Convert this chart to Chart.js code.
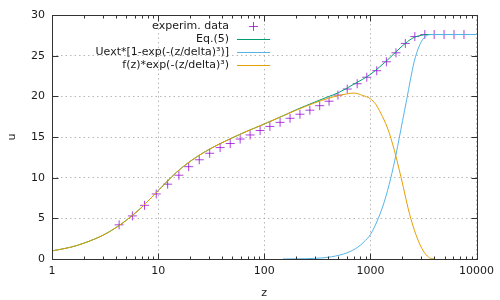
<!DOCTYPE html>
<html>
<head>
<meta charset="utf-8">
<script src="https://cdn.jsdelivr.net/npm/chart.js@4.4.1/dist/chart.umd.min.js"></script>
<style>
  html, body { margin: 0; padding: 0; background: #fff; }
  #wrap { width: 500px; height: 300px; }
</style>
</head>
<body>
<div id="wrap"><canvas id="uChart" width="500" height="300"></canvas></div>
<script>
// tick labels
const zTicks = [1, 10, 100, 1000, 10000];
const uTicks = [0, 5, 10, 15, 20, 25, 30];

const seriesNames = [
  "experim. data",
  "Eq.(5)",
  "Uext*[1-exp(-(z/delta)\u00B3)]",
  "f(z)*exp(-(z/delta)\u00B3)"
];
const seriesColors = ["rgba(148,0,211,0.75)", "#009e73", "#56b4e9", "#e69f00"];

// experimental points
const dataZ = [4.29, 5.72, 7.44, 9.6, 12.3, 15.7, 19.4, 24.4, 30.6, 38.4,
  47.8, 59.3, 73.6, 91.4, 113, 141, 175, 217, 269, 333,
  408, 495, 605, 751, 925, 1148, 1415, 1742, 2134, 2624,
  3258, 3990, 4946, 6137, 7621];
const dataU = [4.2, 5.3, 6.6, 8.0, 9.2, 10.3, 11.35, 12.2, 13.0, 13.7,
  14.2, 14.75, 15.25, 15.8, 16.3, 16.8, 17.3, 17.8, 18.3, 18.85,
  19.4, 20.15, 20.9, 21.55, 22.35, 23.15, 24.25, 25.35, 26.5, 27.35,
  27.6, 27.6, 27.6, 27.6, 27.6];

// Eq.(5)
const eq5Z = [1, 1.5, 2, 3, 4, 5, 7, 10, 15, 20, 30, 50, 70, 100, 150, 200, 300,
  400, 500, 700, 1000, 1500, 2000, 2500, 3000, 3500, 10000];
const eq5U = [1.0, 1.45, 1.95, 2.9, 3.85, 4.75, 6.35, 8.4, 10.7, 12.0, 13.45, 14.9, 15.75, 16.6, 17.6, 18.35, 19.3,
  19.95, 20.45, 21.5, 22.7, 24.65, 26.2, 27.15, 27.5, 27.6, 27.6];

// Uext*[1-exp(...)]
const outerZ = [150, 200, 300, 430, 614, 760, 870, 1000, 1170, 1350, 1560, 1740, 2010, 2200,
  2380, 2590, 2890, 3200, 3700, 10000];
const outerU = [0, 0.02, 0.08, 0.27, 0.8, 1.45, 2.1, 3.0, 4.8, 7.0, 10.0, 12.8, 17.0, 19.6,
  22.0, 24.3, 26.2, 27.2, 27.6, 27.6];

// f(z)*exp(...)
const innerZ = [1, 1.5, 2, 3, 4, 5, 7, 10, 15, 20, 30, 50, 70, 100, 150, 200, 300,
  400, 500, 600, 700, 850, 1000, 1120, 1250, 1450, 1680, 1940, 2400, 3000, 3600, 4000];
const innerU = [1.0, 1.45, 1.95, 2.9, 3.85, 4.75, 6.35, 8.4, 10.7, 12.0, 13.45, 14.9, 15.75, 16.6, 17.6, 18.3, 19.2,
  19.75, 20.1, 20.3, 20.4, 20.1, 19.7, 19.05, 17.95, 16.1, 13.4, 10.1, 5.0, 1.5, 0.15, 0];

const toPts = (xs, ys) => xs.map((x, i) => ({ x: x, y: ys[i] }));

const FONT = "DejaVu Sans";
const TEXT = "#1a1a1a";
const FRAME = "#333333";
const GRID = "rgba(160,160,160,0.75)";

const framePlugin = {
  id: "frame",
  afterDraw(chart) {
    const ctx = chart.ctx;
    const a = chart.chartArea;
    const xs = chart.scales.x, ys = chart.scales.y;
    ctx.save();
    ctx.strokeStyle = FRAME;
    ctx.lineWidth = 1;
    const L = Math.round(a.left) + 0.5, R = Math.round(a.right) + 0.5;
    const T = Math.round(a.top) + 0.5, B = Math.round(a.bottom) + 0.5;
    ctx.strokeRect(L, T, R - L, B - T);

    ctx.beginPath();
    // x major + minor ticks, bottom and top
    for (let d = 1; d < 10000; d *= 10) {
      for (let m = 1; m < 10; m++) {
        const px = Math.round(xs.getPixelForValue(d * m)) + 0.5;
        const len = m === 1 ? 6 : 3;
        ctx.moveTo(px, B); ctx.lineTo(px, B - len);
        ctx.moveTo(px, T); ctx.lineTo(px, T + len);
      }
    }
    // y ticks, left and right
    uTicks.forEach(v => {
      const py = Math.round(ys.getPixelForValue(v)) + 0.5;
      ctx.moveTo(L, py); ctx.lineTo(L + 6, py);
      ctx.moveTo(R, py); ctx.lineTo(R - 6, py);
    });
    ctx.stroke();

    // axis titles
    ctx.fillStyle = TEXT;
    ctx.font = "11px '" + FONT + "'";
    ctx.textAlign = "center";
    ctx.textBaseline = "middle";
    ctx.fillText("z", (a.left + a.right) / 2, 293);
    ctx.save();
    ctx.translate(12, (a.top + a.bottom) / 2);
    ctx.rotate(-Math.PI / 2);
    ctx.fillText("u", 0, 0);
    ctx.restore();

    // legend
    const rowY = [26, 39, 52, 65];
    ctx.textAlign = "right";
    seriesNames.forEach((name, i) => {
      const yy = rowY[i];
      ctx.fillStyle = TEXT;
      ctx.fillText(name, 229, yy);
      ctx.strokeStyle = seriesColors[i];
      ctx.beginPath();
      if (i === 0) {
        ctx.moveTo(253.5 - 4.5, yy + 0.5); ctx.lineTo(253.5 + 4.5, yy + 0.5);
        ctx.moveTo(253.5, yy - 4); ctx.lineTo(253.5, yy + 5);
      } else {
        ctx.moveTo(237, yy + 0.5); ctx.lineTo(270, yy + 0.5);
      }
      ctx.stroke();
    });
    ctx.restore();
  }
};

let chart;

function initChart() {
  chart = new Chart(document.getElementById("uChart"), {
    type: "line",
    data: {
      datasets: [
        {
          label: seriesNames[0],
          data: toPts(dataZ, dataU),
          showLine: false,
          pointStyle: "cross",
          pointRadius: 4.5,
          pointBorderWidth: 1,
          borderColor: seriesColors[0],
          backgroundColor: seriesColors[0],
          order: 4
        },
        {
          label: seriesNames[1],
          data: toPts(eq5Z, eq5U),
          borderColor: seriesColors[1],
          borderWidth: 1,
          pointRadius: 0,
          cubicInterpolationMode: "monotone",
          order: 3
        },
        {
          label: seriesNames[2],
          data: toPts(outerZ, outerU),
          borderColor: seriesColors[2],
          borderWidth: 1,
          pointRadius: 0,
          cubicInterpolationMode: "monotone",
          order: 2
        },
        {
          label: seriesNames[3],
          data: toPts(innerZ, innerU),
          borderColor: seriesColors[3],
          borderWidth: 1,
          pointRadius: 0,
          cubicInterpolationMode: "monotone",
          order: 1
        }
      ]
    },
    options: {
      responsive: false,
      animation: false,
      events: [],
      layout: { padding: { top: 15, right: 21, left: 0, bottom: 0 } },
      plugins: { legend: { display: false }, tooltip: { enabled: false } },
      scales: {
        x: {
          type: "logarithmic",
          min: 1,
          max: 10000,
          afterBuildTicks: s => { s.ticks = zTicks.map(v => ({ value: v })); },
          afterFit: s => { s.height = 41; },
          ticks: {
            autoSkip: false,
            maxRotation: 0,
            padding: 6,
            color: TEXT,
            font: { family: FONT, size: 11 },
            callback: v => String(v)
          },
          grid: { drawTicks: false, color: GRID, lineWidth: 1 },
          border: { display: false, dash: [1.5, 3] }
        },
        y: {
          min: 0,
          max: 30,
          afterBuildTicks: s => { s.ticks = uTicks.map(v => ({ value: v })); },
          afterFit: s => { s.width = 52; },
          ticks: {
            padding: 7,
            color: TEXT,
            font: { family: FONT, size: 11 }
          },
          grid: { drawTicks: false, color: GRID, lineWidth: 1 },
          border: { display: false, dash: [1.5, 3] }
        }
      }
    },
    plugins: [framePlugin]
  });
}

window.onload = initChart;
</script>
</body>
</html>
